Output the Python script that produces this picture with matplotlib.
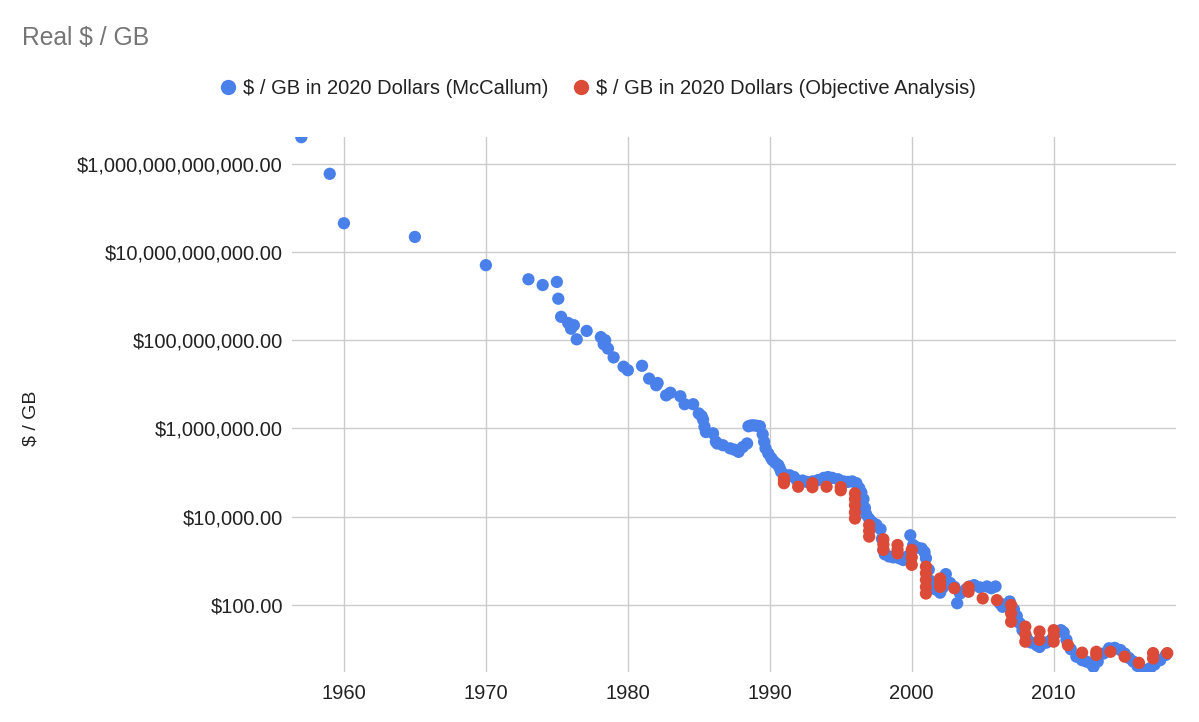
import matplotlib
matplotlib.use("Agg")
import matplotlib.pyplot as plt
from matplotlib.ticker import FuncFormatter, FixedLocator, NullLocator
from matplotlib.lines import Line2D
import numpy as np

plt.rcParams['font.family'] = ['Liberation Sans', 'DejaVu Sans']

# McCallum series: year and log10($/GB)
mc_year = [1957.0, 1959.0, 1960.0, 1965.0, 1970.0, 1973.0, 1974.0, 1975.0, 1975.1, 1975.3,
           1975.8, 1976.0, 1976.2, 1976.4, 1977.1, 1978.1, 1978.3, 1978.4, 1978.6, 1979.0,
           1979.7, 1980.0, 1981.0, 1981.5, 1982.0, 1982.1, 1982.7, 1983.0, 1983.7, 1984.0,
           1984.6, 1985.0, 1985.2, 1985.3, 1985.4, 1985.5, 1986.0, 1986.2, 1986.3, 1986.7,
           1987.2, 1987.5, 1987.8, 1988.1, 1988.4, 1988.5, 1988.7, 1988.9, 1989.1, 1989.3,
           1989.5, 1989.6, 1989.7, 1989.9, 1990.1, 1990.2, 1990.4, 1990.6, 1990.7, 1990.8,
           1991.0, 1991.4, 1991.7, 1991.9, 1992.3, 1992.6, 1993.0, 1993.4, 1993.8, 1994.1,
           1994.4, 1994.8, 1995.2, 1995.5, 1995.8, 1996.1, 1996.3, 1996.45, 1996.6, 1996.7,
           1996.8, 1997.0, 1997.2, 1997.5, 1997.8, 1997.9, 1998.0, 1998.1, 1998.4, 1998.7,
           1999.1, 1999.4, 1999.7, 1999.9, 2000.1, 2000.4, 2000.7, 2000.9, 2001.0, 2001.2,
           2001.3, 2001.5, 2001.7, 2002.0, 2002.2, 2002.4, 2002.7, 2003.0, 2003.2, 2003.4,
           2003.8, 2004.1, 2004.4, 2004.8, 2005.3, 2005.6, 2005.9, 2006.2, 2006.4, 2006.6,
           2006.9, 2007.2, 2007.4, 2007.6, 2007.8, 2008.1, 2008.4, 2008.8, 2009.0, 2009.25,
           2009.5, 2009.8, 2010.1, 2010.5, 2010.7, 2010.9, 2011.2, 2011.6, 2012.0, 2012.3,
           2012.6, 2012.8, 2013.1, 2013.5, 2013.9, 2014.3, 2014.7, 2015.0, 2015.3, 2015.6,
           2015.9, 2016.2, 2016.5, 2016.8, 2017.1, 2017.5, 2017.9]
mc_log = [12.60, 11.77, 10.65, 10.34, 9.70, 9.38, 9.25, 9.32, 8.94, 8.53,
          8.39, 8.26, 8.34, 8.02, 8.21, 8.07, 7.91, 8.00, 7.81, 7.61,
          7.40, 7.32, 7.42, 7.13, 6.98, 7.03, 6.75, 6.81, 6.73, 6.55,
          6.55, 6.34, 6.28, 6.20, 6.04, 5.92, 5.89, 5.70, 5.66, 5.62,
          5.55, 5.52, 5.47, 5.58, 5.66, 6.05, 6.07, 6.07, 6.06, 6.05,
          5.87, 5.70, 5.55, 5.43, 5.33, 5.28, 5.22, 5.17, 5.10, 5.02,
          4.96, 4.94, 4.90, 4.83, 4.82, 4.79, 4.80, 4.83, 4.88, 4.90,
          4.88, 4.85, 4.80, 4.79, 4.80, 4.76, 4.65, 4.55, 4.40, 4.20,
          4.05, 3.95, 3.88, 3.82, 3.72, 3.50, 3.25, 3.15, 3.10, 3.08,
          3.06, 3.02, 3.10, 3.58, 3.36, 3.30, 3.28, 3.20, 3.06, 2.80,
          2.55, 2.40, 2.35, 2.28, 2.40, 2.70, 2.50, 2.41, 2.04, 2.26,
          2.35, 2.42, 2.45, 2.40, 2.42, 2.38, 2.42, 2.04, 1.96, 2.00,
          2.08, 1.90, 1.75, 1.59, 1.43, 1.25, 1.15, 1.09, 1.05, 1.13,
          1.15, 1.20, 1.35, 1.43, 1.38, 1.21, 1.00, 0.83, 0.75, 0.72,
          0.68, 0.60, 0.72, 0.90, 1.02, 1.03, 0.98, 0.90, 0.80, 0.72,
          0.62, 0.55, 0.53, 0.57, 0.65, 0.75, 0.87]

# Objective Analysis series
oa_year = [1991, 1991, 1991, 1992, 1993, 1993, 1994, 1995, 1995,
           1996, 1996, 1996, 1996, 1996, 1997, 1997, 1997, 1998, 1998, 1998,
           1999, 1999, 1999, 2000, 2000, 2000, 2001, 2001, 2001, 2001, 2001,
           2002, 2002, 2002, 2003, 2004, 2004, 2005, 2006, 2007, 2007, 2007,
           2008, 2008, 2008, 2009, 2009, 2010, 2010, 2010, 2011, 2012, 2013, 2013,
           2014, 2015, 2016, 2017, 2017, 2018]
oa_log = [4.87, 4.80, 4.76, 4.68, 4.76, 4.67, 4.68, 4.67, 4.60,
          4.53, 4.40, 4.26, 4.10, 3.96, 3.81, 3.68, 3.55, 3.49, 3.37, 3.25,
          3.36, 3.25, 3.17, 3.25, 3.08, 2.91, 2.87, 2.72, 2.57, 2.41, 2.26,
          2.60, 2.50, 2.41, 2.38, 2.41, 2.30, 2.15, 2.11, 2.00, 1.81, 1.62,
          1.51, 1.34, 1.17, 1.40, 1.21, 1.43, 1.30, 1.17, 1.09, 0.92, 0.94, 0.87,
          0.94, 0.83, 0.69, 0.91, 0.79, 0.91]

mc_val = 10 ** np.array(mc_log)
oa_val = 10 ** np.array(oa_log)

blue = "#4a80ea"
red = "#db4b37"
text_col = "#222222"

fig = plt.figure(figsize=(11.99, 7.22), dpi=100)
ax = fig.add_axes([0.2435, 0.0693, 0.7375, 0.7407])

ax.scatter(mc_year, mc_val, s=78, color=blue, edgecolors="none", zorder=3)
ax.scatter(oa_year, oa_val, s=78, color=red, edgecolors="none", zorder=4)

ax.set_yscale("log")
ax.set_xlim(1956.34, 2018.63)
ax.set_ylim(10 ** 0.483, 10 ** 12.6)

ax.yaxis.set_major_locator(FixedLocator([1e2, 1e4, 1e6, 1e8, 1e10, 1e12]))
ax.yaxis.set_minor_locator(NullLocator())
ax.yaxis.set_major_formatter(FuncFormatter(lambda v, p: f"${v:,.2f}"))
ax.set_xticks([1960, 1970, 1980, 1990, 2000, 2010])

ax.grid(True, color="#cccccc", linewidth=1.0)
ax.set_axisbelow(True)
for sp in ax.spines.values():
    sp.set_visible(False)
ax.tick_params(axis="both", length=0, labelsize=14.5, labelcolor=text_col)
ax.tick_params(axis="y", pad=6.5)
ax.tick_params(axis="x", pad=9)

ax.set_ylabel("$ / GB", fontsize=14, color=text_col, labelpad=0)
ax.yaxis.set_label_coords(-0.285, 0.475)

fig.text(22 / 1199, 1 - 38 / 722, "Real $ / GB", fontsize=17.7, color="#757575",
         ha="left", va="center")

handles = [
    Line2D([], [], marker="o", linestyle="none", markersize=10, color=blue,
           label="$ / GB in 2020 Dollars (McCallum)"),
    Line2D([], [], marker="o", linestyle="none", markersize=10, color=red,
           label="$ / GB in 2020 Dollars (Objective Analysis)"),
]
fig.legend(handles=handles, loc="center", bbox_to_anchor=(0.498, 1 - 89 / 722), ncol=2,
           frameon=False, fontsize=14.5, handletextpad=0.25, columnspacing=1.1,
           handlelength=1.0, labelcolor=text_col)

fig.savefig("out.png", dpi=100)
